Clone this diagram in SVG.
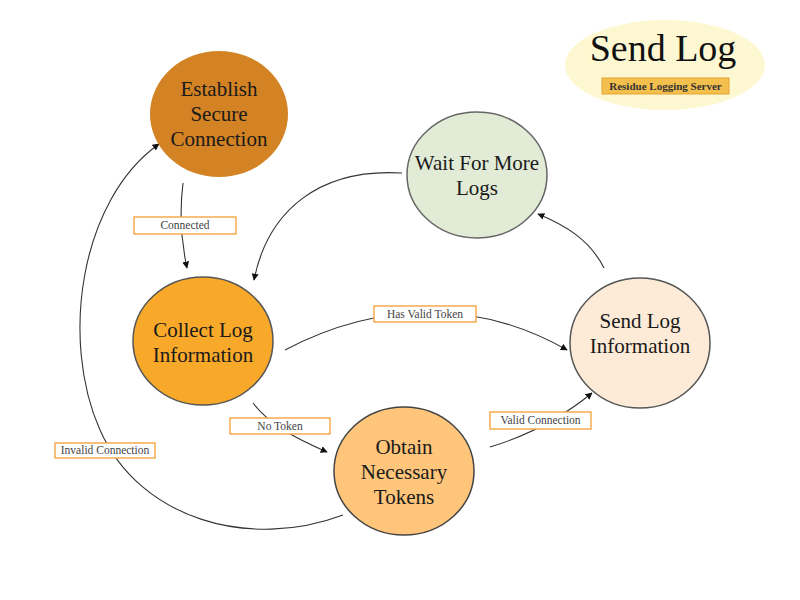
<svg xmlns="http://www.w3.org/2000/svg" width="800" height="600" viewBox="0 0 800 600">
<style>
.node text{font-family:"Liberation Serif","Times New Roman",serif;font-size:21px;fill:#1a1a1a;text-anchor:middle}
.edge{fill:none;stroke:#333;stroke-width:1.1}
.lbl rect{fill:#fff;stroke:#F7A540;stroke-width:1.4}
.lbl text{font-family:"Liberation Serif","Times New Roman",serif;font-size:11.5px;fill:#444;text-anchor:middle}
</style>
<defs>
<marker id="arr" viewBox="0 0 10 10" refX="9" refY="5" markerWidth="7" markerHeight="7" markerUnits="userSpaceOnUse" orient="auto">
<path d="M0,0 L10,5 L0,10 z" fill="#111"/>
</marker>
</defs>
<rect width="800" height="600" fill="#fff"/>
<g id="title">
<ellipse cx="665" cy="65" rx="100" ry="45" fill="#FDF8D2"/>
<text x="663" y="61" font-family="Liberation Serif, Times New Roman, serif" font-size="38" fill="#111" text-anchor="middle">Send Log</text>
<rect x="602" y="78" width="127" height="16" fill="#F4C04D" stroke="#E3A435" stroke-width="1"/>
<text x="665.5" y="90" font-family="Liberation Serif, Times New Roman, serif" font-size="11" fill="#333" text-anchor="middle" font-weight="bold">Residue Logging Server</text>
</g>
<g id="connectors">
<path class="edge" d="M183,183 C179,215 182,245 187,268" marker-end="url(#arr)"/>
<path class="edge" d="M402,173 C320,168 268,210 254,280" marker-end="url(#arr)"/>
<path class="edge" d="M285,350 C380,300 480,300 567,350" marker-end="url(#arr)"/>
<path class="edge" d="M253,403 C270,425 295,438 327,452" marker-end="url(#arr)"/>
<path class="edge" d="M490,447 C530,435 565,415 592,393" marker-end="url(#arr)"/>
<path class="edge" d="M604,268 C590,240 565,225 538,214" marker-end="url(#arr)"/>
<path class="edge" d="M343,515 C250,550 140,520 100,430 C60,340 80,200 159,144" marker-end="url(#arr)"/>
<g class="lbl"><rect x="134" y="217" width="102" height="17"/><text x="185" y="229">Connected</text></g>
<g class="lbl"><rect x="374" y="306" width="102" height="16"/><text x="425" y="318">Has Valid Token</text></g>
<g class="lbl"><rect x="230" y="418" width="100" height="16"/><text x="280" y="430">No Token</text></g>
<g class="lbl"><rect x="490" y="412" width="101" height="17"/><text x="540.5" y="424">Valid Connection</text></g>
<g class="lbl"><rect x="55" y="443" width="100" height="15"/><text x="105" y="454">Invalid Connection</text></g>
</g>
<g id="establish" class="node">
<ellipse cx="219" cy="114" rx="69" ry="63" fill="#D38224"/>
<text x="219" y="96">Establish</text>
<text x="219" y="121">Secure</text>
<text x="219" y="146">Connection</text>
</g>
<g id="wait" class="node">
<ellipse cx="477" cy="175" rx="70" ry="63" fill="#E1EBD6" stroke="#666" stroke-width="1.5"/>
<text x="477" y="170">Wait For More</text>
<text x="477" y="195">Logs</text>
</g>
<g id="collect" class="node">
<ellipse cx="203" cy="341" rx="70" ry="64" fill="#F9A92A" stroke="#555" stroke-width="1.5"/>
<text x="203" y="337">Collect Log</text>
<text x="203" y="362">Information</text>
</g>
<g id="sendinfo" class="node">
<ellipse cx="640" cy="343" rx="70" ry="65" fill="#FDEBD7" stroke="#555" stroke-width="1.5"/>
<text x="640" y="328">Send Log</text>
<text x="640" y="353">Information</text>
</g>
<g id="obtain" class="node">
<ellipse cx="404" cy="471" rx="70" ry="64" fill="#FEC57B" stroke="#444" stroke-width="1.5"/>
<text x="404" y="454">Obtain</text>
<text x="404" y="479">Necessary</text>
<text x="404" y="504">Tokens</text>
</g>
</svg>
